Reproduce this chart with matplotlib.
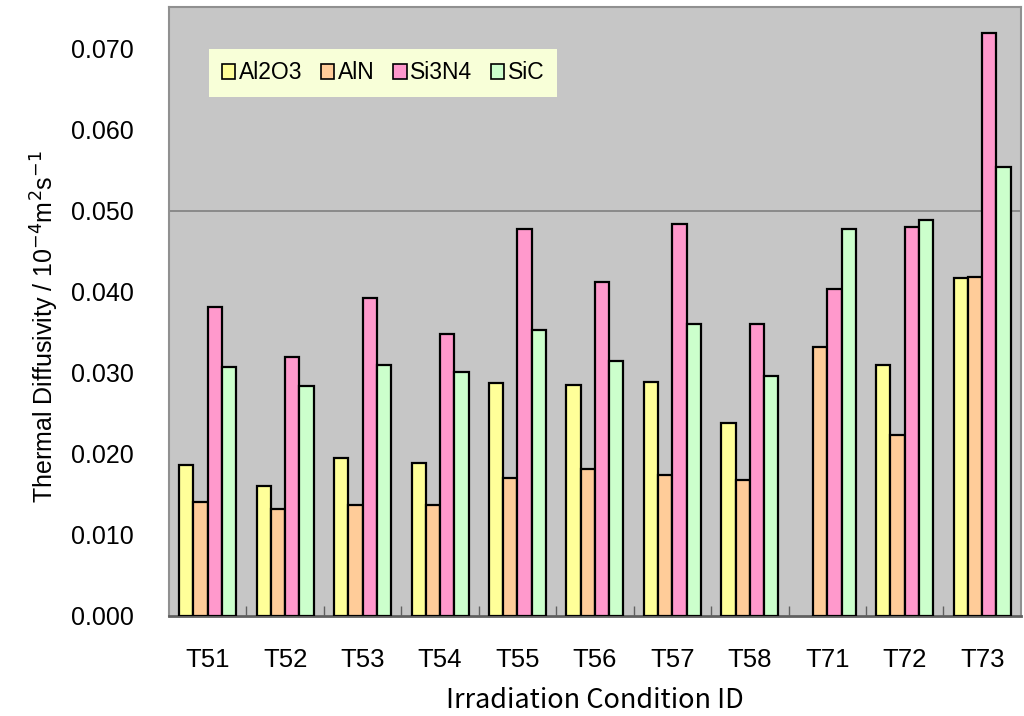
import numpy as np
import matplotlib.pyplot as plt

conditions = ['T51', 'T52', 'T53', 'T54', 'T55', 'T56', 'T57', 'T58', 'T71', 'T72', 'T73']
al2o3 = [0.0186, 0.0160, 0.0195, 0.0189, 0.0287, 0.0285, 0.0289, 0.0238, np.nan, 0.0310, 0.0417]
aln = [0.0141, 0.0132, 0.0137, 0.0137, 0.0170, 0.0181, 0.0174, 0.0168, 0.0332, 0.0223, 0.0418]
si3n4 = [0.0381, 0.0320, 0.0393, 0.0348, 0.0477, 0.0412, 0.0484, 0.0360, 0.0403, 0.0480, 0.0719]
sic = [0.0307, 0.0284, 0.0310, 0.0301, 0.0353, 0.0315, 0.0360, 0.0296, 0.0477, 0.0489, 0.0554]

series = [('Al2O3', al2o3, '#FFFF99'),
          ('AlN', aln, '#FFCC99'),
          ('Si3N4', si3n4, '#FF99CC'),
          ('SiC', sic, '#CCFFCC')]

fig = plt.figure(figsize=(10.24, 7.16), dpi=100)
ax = fig.add_axes([0.165, 0.1397, 0.832, 0.851])
ax.set_facecolor('#C6C6C6')

x = np.arange(len(conditions))
w = 0.184
for i, (name, vals, col) in enumerate(series):
    ax.bar(x + (i - 1.5) * w, vals, w, color=col, edgecolor='black', linewidth=1.6, label=name, zorder=3)

ax.axhline(0.05, color='#808080', linewidth=1.2, zorder=2)

ax.set_xlim(-0.5, len(conditions) - 0.5)
ax.set_ylim(0, 0.0752)
yt = np.arange(0, 0.071, 0.01)
ax.set_yticks(yt)
ax.set_yticklabels(['%.3f' % v for v in yt], fontsize=18, family='Liberation Sans')
ax.tick_params(axis='y', length=0, pad=25)

ax.set_xticks(x)
ax.set_xticklabels(conditions, fontsize=18.5, family='Liberation Sans')
ax.tick_params(axis='x', which='major', length=0, pad=23)
ax.set_xticks(np.arange(0.5, len(conditions) - 0.5), minor=True)
ax.tick_params(axis='x', which='minor', direction='in', length=7, color='#606060', width=1)

for s in ax.spines.values():
    s.set_color('#909090')
    s.set_linewidth(1.5)
ax.spines['bottom'].set_color('#606060')
ax.spines['bottom'].set_linewidth(2)

ax.set_xlabel('Irradiation Condition ID', fontsize=19.5, family='Noto Sans CJK JP', labelpad=11)
ax.set_ylabel(r'Thermal Diffusivity / 10$^{-4}$m$^{2}$s$^{-1}$', fontsize=18,
              family=['Liberation Sans Narrow', 'Liberation Sans'])
ax.yaxis.set_label_coords(-0.127, 0.475)

leg = ax.legend(loc='upper left', bbox_to_anchor=(0.047, 0.931), ncol=4,
                prop={'family': 'Liberation Sans', 'size': 16.5},
                frameon=True, fancybox=False, handlelength=0.6, handleheight=0.6,
                handletextpad=0.15, columnspacing=0.8, borderpad=0.55, borderaxespad=0)
leg.get_frame().set_facecolor('#F8FFD8')
leg.get_frame().set_edgecolor('none')
leg.get_frame().set_alpha(1)
for h in leg.legend_handles:
    h.set_linewidth(1.2)

fig.savefig('out.png', dpi=100)
